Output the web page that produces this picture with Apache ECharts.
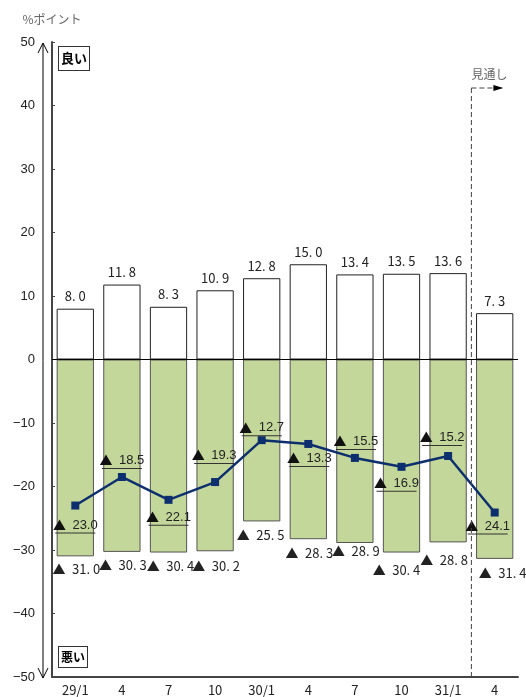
<!DOCTYPE html>
<html>
<head>
<meta charset="utf-8">
<script src="https://cdn.jsdelivr.net/npm/echarts@6/dist/echarts.min.js"></script>
<style>
  html, body { margin: 0; padding: 0; background: #fff; }
  #chart { width: 526px; height: 697px; }
</style>
</head>
<body>
<div id="chart"></div>
<script>
// 業況判断 (良い / 悪い / DI)
var categories = ["29/1", "4", "7", "10", "30/1", "4", "7", "10", "31/1", "4"];
var goodValues = [8.0, 11.8, 8.3, 10.9, 12.8, 15.0, 13.4, 13.5, 13.6, 7.3];
var badValues = [-31.0, -30.3, -30.4, -30.2, -25.5, -28.3, -28.9, -30.4, -28.8, -31.4];
var diValues = [-23.0, -18.5, -22.1, -19.3, -12.7, -13.3, -15.5, -16.9, -15.2, -24.1];
var yMin = -50, yMax = 50, yStep = 10;

// label nudges (px) so the callouts sit where the original has them
var badLabelDx = [1, 1, 2, 1, -1, 1, 1, -5, -4, 8];
var badLabelDy = [1, 2, 2, 3, 2, 2, -3, 6, 6, 3];
var diLabelDx = [0, 0, 0, -1, 0, 1, 1, -5, -6, -7];
var diLabelDy = [20, -16, 18, -26, -12, 15, -16, 17, -18, 14];

var chart = echarts.init(document.getElementById("chart"));

var cjk = "Noto Sans CJK JP";

var badData = badValues.map(function (v, i) {
  return { value: v, label: { offset: [badLabelDx[i], badLabelDy[i]] } };
});
var diData = diValues.map(function (v, i) {
  return { value: v, label: { offset: [diLabelDx[i], diLabelDy[i]] } };
});

var option = {
  backgroundColor: "#ffffff",
  animation: false,
  grid: { left: 52, right: 8, top: 42, bottom: 17 },
  xAxis: {
    type: "category",
    data: categories,
    axisLine: { onZero: false, lineStyle: { color: "#444", width: 2 } },
    axisTick: { show: false },
    axisLabel: { color: "#222", fontSize: 13, margin: 7, fontFamily: cjk },
    splitLine: { show: false }
  },
  yAxis: {
    type: "value",
    min: yMin,
    max: yMax,
    interval: yStep,
    name: "%ポイント",
    nameLocation: "end",
    nameGap: 17,
    nameTextStyle: { color: "#666", fontSize: 12, fontFamily: cjk },
    axisLine: { show: true, lineStyle: { color: "#444", width: 2 } },
    axisTick: { show: true, inside: true, length: 3, lineStyle: { color: "#444" } },
    axisLabel: {
      color: "#222",
      fontSize: 13,
      margin: 17,
      fontFamily: "Liberation Sans",
      formatter: function (v) { return String(v).replace("-", "−"); }
    },
    splitLine: { show: false }
  },
  series: [
    {
      name: "良い",
      type: "bar",
      data: goodValues,
      barCategoryGap: "20%",
      barGap: "-100%",
      itemStyle: { color: "#ffffff", borderColor: "#222", borderWidth: 1 },
      label: {
        show: true,
        position: "top",
        distance: 6,
        color: "#222",
        fontSize: 13,
        fontFamily: cjk,
        formatter: function (p) { return p.value.toFixed(1).replace(".", ". "); }
      },
      z: 2
    },
    {
      name: "悪い",
      type: "bar",
      data: badData,
      barCategoryGap: "20%",
      barGap: "-100%",
      itemStyle: { color: "#c4d79b", borderColor: "#555", borderWidth: 1 },
      label: {
        show: true,
        position: "bottom",
        distance: 5,
        color: "#222",
        fontSize: 13,
        fontFamily: cjk,
        formatter: function (p) {
          return "▲\u2002" + Math.abs(p.value).toFixed(1).replace(".", ". ");
        }
      },
      markLine: {
        silent: true,
        symbol: "none",
        label: { show: false },
        lineStyle: { color: "#000", width: 1, type: "solid" },
        data: [{ yAxis: 0 }]
      },
      z: 2
    },
    {
      name: "DI",
      type: "line",
      data: diData,
      symbol: "rect",
      symbolSize: 8,
      color: "#0d2f6e",
      lineStyle: { color: "#0d2f6e", width: 2.5 },
      itemStyle: { color: "#0d2f6e" },
      label: {
        show: true,
        position: "inside",
        formatter: function (p) {
          return "{a|▲}{t|\u2002" + Math.abs(p.value).toFixed(1) + "}\n{u|}";
        },
        rich: {
          a: { color: "#111", fontSize: 13, fontFamily: cjk, lineHeight: 15 },
          t: { color: "#222", fontSize: 13, fontFamily: "Liberation Sans", lineHeight: 15 },
          u: { width: 40, height: 1, backgroundColor: "#333", align: "center" }
        }
      },
      z: 5
    }
  ]
};

chart.setOption(option);

// decorations: arrow, 良い/悪い boxes, 見通し marker
var yTop = chart.convertToPixel({ yAxisIndex: 0 }, yMax);
var yBot = chart.convertToPixel({ yAxisIndex: 0 }, yMin);
var xLast = chart.convertToPixel({ xAxisIndex: 0 }, categories.length - 1);
var xPrev = chart.convertToPixel({ xAxisIndex: 0 }, categories.length - 2);
var xSplit = (xLast + xPrev) / 2;
var arrowX = 43;
var dashY = yTop + 46;

chart.setOption({
  graphic: [
    { type: "line", shape: { x1: arrowX, y1: yTop + 1, x2: arrowX, y2: yBot + 1 }, style: { stroke: "#000", lineWidth: 1 }, silent: true },
    { type: "polyline", shape: { points: [[arrowX - 5, yTop + 11], [arrowX, yTop + 1], [arrowX + 5, yTop + 11]] }, style: { stroke: "#000", lineWidth: 1, fill: null }, silent: true },
    { type: "polyline", shape: { points: [[arrowX - 5, yBot - 9], [arrowX, yBot + 1], [arrowX + 5, yBot - 9]] }, style: { stroke: "#000", lineWidth: 1, fill: null }, silent: true },
    {
      type: "text", left: 58, top: yTop + 4, silent: true,
      style: { text: "良い", fill: "#000", font: "bold 13px 'Noto Sans CJK JP'", backgroundColor: "#fff", borderColor: "#333", borderWidth: 1, padding: [5, 2, 5, 2] }
    },
    {
      type: "text", left: 58, top: yBot - 31, silent: true,
      style: { text: "悪い", fill: "#000", font: "bold 12px 'Noto Sans CJK JP'", backgroundColor: "#fff", borderColor: "#333", borderWidth: 1, padding: [4, 2, 4, 2] }
    },
    { type: "line", shape: { x1: xSplit, y1: dashY, x2: xSplit, y2: yBot }, style: { stroke: "#444", lineWidth: 1, lineDash: [5, 3] }, silent: true, z: 10 },
    { type: "line", shape: { x1: xSplit, y1: dashY, x2: xSplit + 24, y2: dashY }, style: { stroke: "#444", lineWidth: 1, lineDash: [5, 3] }, silent: true },
    { type: "polygon", shape: { points: [[xSplit + 22, dashY - 3], [xSplit + 32, dashY], [xSplit + 22, dashY + 3]] }, style: { fill: "#000" }, silent: true },
    {
      type: "text", left: xSplit, top: dashY - 20, silent: true,
      style: { text: "見通し", fill: "#666", font: "12px 'Noto Sans CJK JP'" }
    }
  ]
});
</script>
</body>
</html>
